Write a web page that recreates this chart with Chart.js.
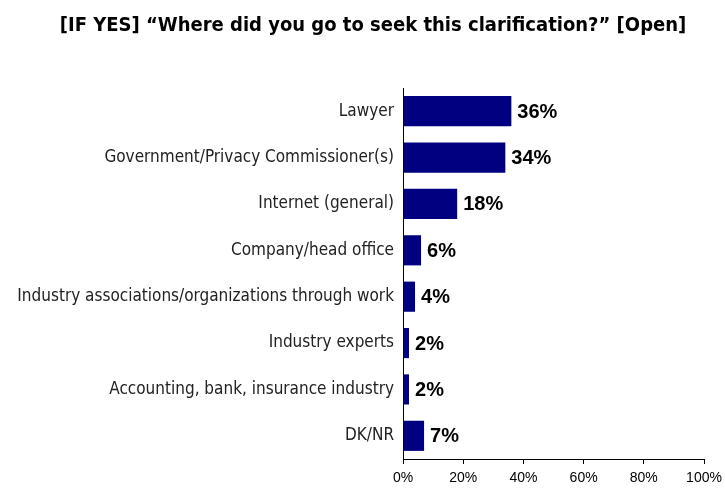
<!DOCTYPE html>
<html>
<head>
<meta charset="utf-8">
<script src="https://cdn.jsdelivr.net/npm/chart.js@4/dist/chart.umd.min.js"></script>
<style>
  html, body { margin: 0; padding: 0; background: #fff; }
  #wrap { width: 725px; height: 492px; position: relative; }
</style>
</head>
<body>
<div id="wrap"><canvas id="sources"></canvas></div>
<script>
const categories = [
    'Lawyer',
    'Government/Privacy Commissioner(s)',
    'Internet (general)',
    'Company/head office',
    'Industry associations/organizations through work',
    'Industry experts',
    'Accounting, bank, insurance industry',
    'DK/NR'
];
const shares = [36, 34, 18, 6, 4, 2, 2, 7];
const tickValues = [0, 20, 40, 60, 80, 100];

const narrow = "'DejaVu Sans Condensed', 'Arial Narrow', sans-serif";
const plain = "Arial, 'Liberation Sans', sans-serif";

// prints the percentage just right of each bar
const valueLabels = {
    id: 'valueLabels',
    afterDatasetsDraw(chart) {
        const c = chart.ctx;
        const meta = chart.getDatasetMeta(0);
        c.save();
        c.font = 'bold 20px ' + plain;
        c.fillStyle = '#000';
        c.textBaseline = 'middle';
        c.textAlign = 'left';
        meta.data.forEach((bar, i) => {
            c.fillText(shares[i] + '%', bar.x + 6, bar.y + 1);
        });
        c.restore();
    }
};

// nudge the title box so the heading sits a little right of centre
const titleShift = {
    id: 'titleShift',
    afterLayout(chart) {
        const t = chart.titleBlock;
        if (t) {
            t.left = 21;
            t.right = chart.width;
            t.width = t.right - t.left;
        }
    }
};

const sources = document.getElementById('sources').getContext('2d');

const sourceChart = new Chart(sources, {
    type: 'bar',
    data: {
        labels: categories,
        datasets: [{
            data: shares,
            backgroundColor: '#000080',
            categoryPercentage: 1,
            barPercentage: 0.65
        }]
    },
    options: {
        indexAxis: 'y',
        responsive: true,
        maintainAspectRatio: false,
        animation: false,
        layout: { padding: { left: 0, right: 21, top: 0, bottom: 0 } },
        plugins: {
            legend: { display: false },
            tooltip: { enabled: false },
            title: {
                display: true,
                text: '[IF YES] \u201cWhere did you go to seek this clarification?\u201d [Open]',
                color: '#000',
                font: { family: narrow, size: 20, weight: 'bold', lineHeight: 1.2 },
                padding: { top: 14, bottom: 50 }
            }
        },
        scales: {
            x: {
                min: 0,
                max: 100,
                afterBuildTicks: (scale) => {
                    scale.ticks = tickValues.map(v => ({ value: v }));
                },
                afterFit: (scale) => {
                    scale.height = 33;
                    scale.paddingLeft = 0;
                    scale.paddingRight = 0;
                },
                grid: {
                    display: true,
                    drawOnChartArea: false,
                    drawTicks: true,
                    tickLength: 5,
                    color: '#000'
                },
                border: { display: true, color: '#000', width: 1 },
                ticks: {
                    color: '#000',
                    padding: 6,
                    maxRotation: 0,
                    font: { family: plain, size: 14 },
                    callback: (v) => v + '%'
                }
            },
            y: {
                afterFit: (scale) => { scale.width = 403; },
                grid: { display: false, drawTicks: false },
                border: { display: true, color: '#000', width: 1 },
                ticks: {
                    color: '#222',
                    padding: 9,
                    font: { family: narrow, size: 17 }
                }
            }
        }
    },
    plugins: [valueLabels, titleShift]
});
</script>
</body>
</html>
